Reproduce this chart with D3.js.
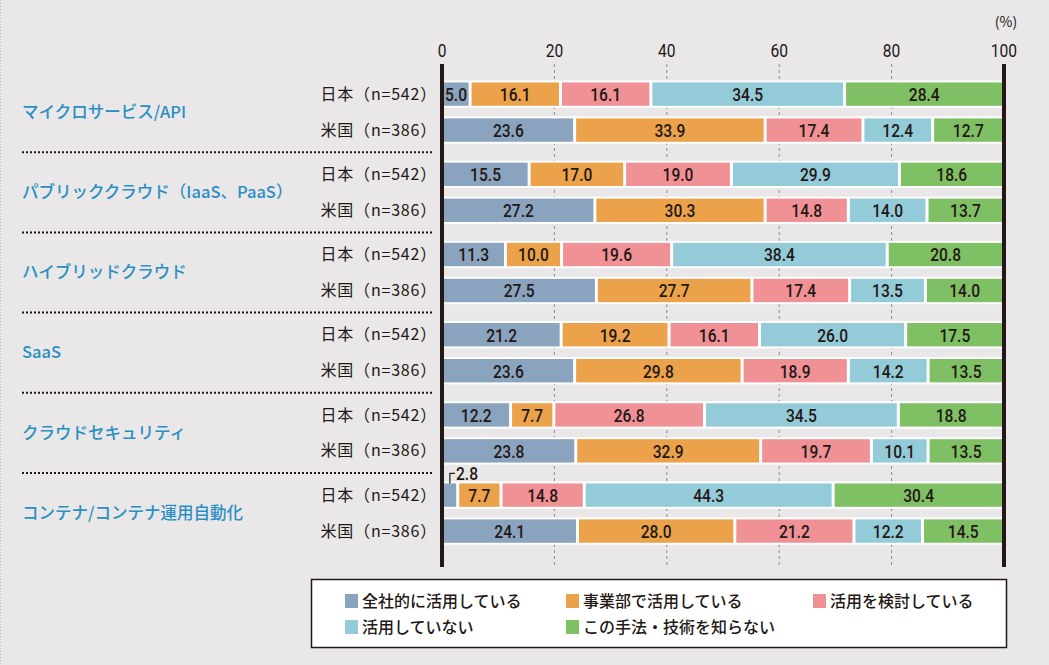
<!DOCTYPE html>
<html>
<head>
<meta charset="utf-8">
<script src="https://cdn.jsdelivr.net/npm/d3@7"></script>
<style>
  body { margin: 0; background: #e9e7e8; }
  svg { display: block; }
</style>
</head>
<body>
<div id="chart"></div>
<script>
// Data
var groups = ["マイクロサービス/API", "パブリッククラウド（IaaS、PaaS）", "ハイブリッドクラウド",
    "SaaS", "クラウドセキュリティ", "コンテナ/コンテナ運用自動化"];
var countries = ["日本（n=542）", "米国（n=386）"];
var seriesNames = ["全社的に活用している", "事業部で活用している", "活用を検討している",
    "活用していない", "この手法・技術を知らない"];
var colors = ["#8aa3be", "#eba24a", "#f09295", "#94cbd8", "#80c064"];
var japanValues = [
    [5.0, 16.1, 16.1, 34.5, 28.4],
    [15.5, 17.0, 19.0, 29.9, 18.6],
    [11.3, 10.0, 19.6, 38.4, 20.8],
    [21.2, 19.2, 16.1, 26.0, 17.5],
    [12.2, 7.7, 26.8, 34.5, 18.8],
    [2.8, 7.7, 14.8, 44.3, 30.4]
];
var usValues = [
    [23.6, 33.9, 17.4, 12.4, 12.7],
    [27.2, 30.3, 14.8, 14.0, 13.7],
    [27.5, 27.7, 17.4, 13.5, 14.0],
    [23.6, 29.8, 18.9, 14.2, 13.5],
    [23.8, 32.9, 19.7, 10.1, 13.5],
    [24.1, 28.0, 21.2, 12.2, 14.5]
];
var tickValues = [0, 20, 40, 60, 80, 100];

var width = 1049, height = 665;
var numFont = "Roboto, sans-serif";
var jpFont = "'Noto Sans CJK JP', sans-serif";
var squeeze = 0.82; // narrow digits like the original condensed face

var svg = d3.select("#chart").append("svg")
    .attr("width", width)
    .attr("height", height);

svg.append("rect")
    .attr("width", width).attr("height", height)
    .attr("fill", "#e9e7e8");

// left dotted border
svg.append("line")
    .attr("x1", 0.5).attr("x2", 0.5).attr("y1", 0).attr("y2", height)
    .attr("stroke", "#bbb").attr("stroke-dasharray", "1,2");

var x = d3.scaleLinear().domain([0, 100]).range([442, 1004]);
var y = d3.scaleBand().domain(groups).range([72, 553.2]);
var yInner = d3.scaleBand().domain(countries).range([0, y.bandwidth()])
    .paddingInner(0.35).paddingOuter(0.29);

// grid lines
svg.append("g")
    .selectAll("line")
    .data(tickValues.filter(d => d > 0 && d < 100))
    .enter().append("line")
    .attr("x1", d => x(d)).attr("x2", d => x(d))
    .attr("y1", 64).attr("y2", 567)
    .attr("stroke", "#8a8a8a")
    .attr("stroke-width", 1)
    .attr("stroke-dasharray", "3,3");

// tick labels
svg.append("g")
    .selectAll("text")
    .data(tickValues)
    .enter().append("text")
    .attr("transform", d => "translate(" + x(d) + ",57) scale(" + squeeze + ",1)")
    .attr("text-anchor", "middle")
    .attr("font-family", numFont)
    .attr("font-size", "19px")
    .attr("fill", "#231815")
    .text(d => d);

svg.append("text")
    .attr("x", x(100) + 2).attr("y", 27)
    .attr("text-anchor", "middle")
    .attr("font-family", jpFont)
    .attr("font-size", "14px")
    .attr("fill", "#231815")
    .text("(%)");

// rows
var rows = [];
groups.forEach(function (g, i) {
    rows.push({ group: g, country: countries[0], values: japanValues[i] });
    rows.push({ group: g, country: countries[1], values: usValues[i] });
});

var rowG = svg.append("g")
    .selectAll("g")
    .data(rows)
    .enter().append("g")
    .attr("transform", d => "translate(0," + (y(d.group) + yInner(d.country)) + ")");

var bh = yInner.bandwidth();

rowG.append("rect")
    .attr("x", x(0)).attr("y", -2)
    .attr("width", x(100) - x(0)).attr("height", bh + 4)
    .attr("fill", "#fff");

rowG.each(function (d) {
    var total = d3.sum(d.values);
    var cum = 0;
    var segs = d.values.map(function (v, k) {
        var s = { v: v, k: k, x0: cum / total * 100 };
        cum += v;
        s.x1 = cum / total * 100;
        return s;
    });
    var sel = d3.select(this);
    sel.selectAll("rect.seg")
        .data(segs)
        .enter().append("rect")
        .attr("class", "seg")
        .attr("x", s => x(s.x0) + (s.k === 0 ? 0 : 1.5))
        .attr("y", 0)
        .attr("width", s => x(s.x1) - x(s.x0) - (s.k === 0 ? 1.5 : 3) + (s.k === 4 ? 1.5 : 0))
        .attr("height", bh)
        .attr("fill", s => colors[s.k]);

    sel.selectAll("text.val")
        .data(segs)
        .enter().append("text")
        .attr("class", "val")
        .attr("transform", function (s) {
            var tx = s.v < 4 ? x(s.x0) + 14 : (x(s.x0) + x(s.x1)) / 2;
            var ty = s.v < 4 ? -10 : bh / 2;
            return "translate(" + tx + "," + ty + ") scale(" + squeeze + ",1)";
        })
        .attr("dy", "0.36em")
        .attr("text-anchor", s => s.v < 4 ? "start" : "middle")
        .attr("font-family", numFont)
        .attr("font-size", "19px")
        .attr("font-weight", 500)
        .attr("fill", "#231815")
        .text(s => s.v.toFixed(1));

    // leader line for the small value
    segs.filter(s => s.v < 4).forEach(function (s) {
        var cx = (x(s.x0) + x(s.x1)) / 2;
        sel.append("path")
            .attr("d", "M" + cx + "," + 0 + "V-10H" + (cx + 5))
            .attr("fill", "none")
            .attr("stroke", "#231815")
            .attr("stroke-width", 1.2);
    });
});

// country labels
rowG.append("text")
    .attr("x", 437)
    .attr("y", bh / 2)
    .attr("dy", "0.35em")
    .attr("text-anchor", "end")
    .attr("font-family", jpFont)
    .attr("font-size", "16px")
    .attr("letter-spacing", "0.8px")
    .attr("fill", "#231815")
    .text(d => d.country);

// group labels
svg.append("g")
    .selectAll("text")
    .data(groups)
    .enter().append("text")
    .attr("x", 22)
    .attr("y", d => y(d) + y.bandwidth() / 2)
    .attr("dy", "0.35em")
    .attr("font-family", jpFont)
    .attr("font-size", "16.5px")
    .attr("font-weight", 500)
    .attr("fill", "#2a8fc3")
    .text(d => d);

// dotted separators
svg.append("g")
    .selectAll("line")
    .data(groups.slice(1))
    .enter().append("line")
    .attr("x1", 22).attr("x2", 432)
    .attr("y1", d => y(d)).attr("y2", d => y(d))
    .attr("stroke", "#231815")
    .attr("stroke-width", 2)
    .attr("stroke-dasharray", "2,2");

// axis lines at 0 and 100
svg.append("g")
    .selectAll("line")
    .data([0, 100])
    .enter().append("line")
    .attr("x1", d => x(d)).attr("x2", d => x(d))
    .attr("y1", 64).attr("y2", 567)
    .attr("stroke", "#231815")
    .attr("stroke-width", 4);

// legend
var legend = svg.append("g");
legend.append("rect")
    .attr("x", 311.5).attr("y", 579.5)
    .attr("width", 695).attr("height", 68)
    .attr("fill", "#fff")
    .attr("stroke", "#231815")
    .attr("stroke-width", 1.5);

var legendX = [345, 566, 813];
var item = legend.selectAll("g")
    .data(seriesNames)
    .enter().append("g")
    .attr("transform", (d, i) => "translate(" + legendX[i % 3] + "," + (i < 3 ? 601 : 627) + ")");

item.append("rect")
    .attr("x", 0).attr("y", -7)
    .attr("width", 13).attr("height", 14)
    .attr("fill", (d, i) => colors[i]);

item.append("text")
    .attr("x", 17).attr("y", 0)
    .attr("dy", "0.35em")
    .attr("font-family", jpFont)
    .attr("font-size", "16px")
    .attr("font-weight", 500)
    .attr("fill", "#231815")
    .text(d => d);
</script>
</body>
</html>
